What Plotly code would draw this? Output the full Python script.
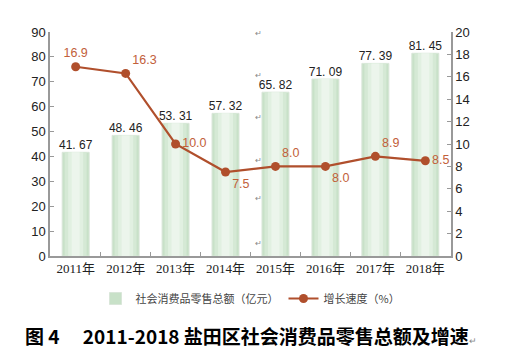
import plotly.graph_objects as go

years = ["2011年", "2012年", "2013年", "2014年", "2015年", "2016年", "2017年", "2018年"]
sales = [41.67, 48.46, 53.31, 57.32, 65.82, 71.09, 77.39, 81.45]
growth = [16.9, 16.3, 10.0, 7.5, 8.0, 8.0, 8.9, 8.5]
growth_pos = ["top center", "top right", "middle right", "bottom right",
              "top right", "bottom right", "top right", "middle right"]

fig = go.Figure()

# gradient-like bars (overlay of narrowing bars)
layers = [(0.54, "#c8e1c8", True), (0.44, "#d5e9d5", False), (0.30, "#e1f0e1", False), (0.16, "#ecf5ec", False)]
for w, c, first in layers:
    fig.add_trace(go.Bar(
        x=years, y=sales, width=w,
        marker=dict(color=c, line=dict(width=1 if first else 0, color="#d9e6d9")),
        name="社会消费品零售总额（亿元）", showlegend=first, hoverinfo="skip",
    ))

# bar value labels
fig.add_trace(go.Scatter(
    x=years, y=sales, mode="text", showlegend=False,
    text=[f"{v:.2f}".replace(".", ". ") for v in sales], textposition="top center",
    textfont=dict(family="Liberation Sans, Arial", size=12, color="#222"),
    cliponaxis=False, hoverinfo="skip",
))

fig.add_trace(go.Scatter(
    x=years, y=growth, yaxis="y2", mode="lines+markers+text",
    name="增长速度（%）",
    line=dict(color="#b04f2c", width=2.2),
    marker=dict(color="#b04f2c", size=9),
    text=[f"{v:.1f}" for v in growth], textposition=growth_pos,
    textfont=dict(family="Arial, Liberation Sans", size=12.5, color="#c2603a"),
    cliponaxis=False,
))

axis_common = dict(showline=True, linecolor="#999", linewidth=1.5, ticks="inside",
                   ticklen=4, tickcolor="#999", showgrid=False, zeroline=False,
                   tickfont=dict(family="Arial, Liberation Sans", size=13, color="#222"))

# stray paragraph marks visible in the source image
marks_y = [1.031, 0.845, 0.621, 0.429, 0.228, 0.027]
annotations = [dict(text="↵", xref="paper", yref="paper", x=0.519, y=yy,
                    showarrow=False, font=dict(size=8, color="#888"))
               for yy in marks_y]
annotations.append(dict(
    text="<b>图 4　 2011-2018 盐田区社会消费品零售总额及增速</b><span style='font-size:9px;color:#888'>↵</span>",
    xref="paper", yref="paper", x=0.5, xanchor="center",
    y=-0.353, yanchor="middle", showarrow=False,
    font=dict(family="Noto Sans CJK SC", size=19, color="#000")))

fig.update_layout(
    width=519, height=358,
    margin=dict(l=42, r=76, t=24, b=110),
    paper_bgcolor="white", plot_bgcolor="white",
    barmode="overlay",
    xaxis=dict(showline=True, linecolor="#999", linewidth=1.5, ticks="inside",
               tickson="boundaries", ticklen=4, tickcolor="#999", tickangle=0,
               tickfont=dict(family="Liberation Serif, Noto Sans CJK SC", size=13, color="#222")),
    yaxis=dict(range=[0, 90], dtick=10, **axis_common),
    yaxis2=dict(range=[0, 20], dtick=2, overlaying="y", side="right", **axis_common),
    legend=dict(orientation="h", x=0.5, xanchor="center", y=-0.125, yanchor="top",
                font=dict(family="Noto Sans CJK SC", size=11, color="#444"),
                itemwidth=30, traceorder="normal"),
    showlegend=True,
    annotations=annotations,
)

fig.write_html("out.html")
